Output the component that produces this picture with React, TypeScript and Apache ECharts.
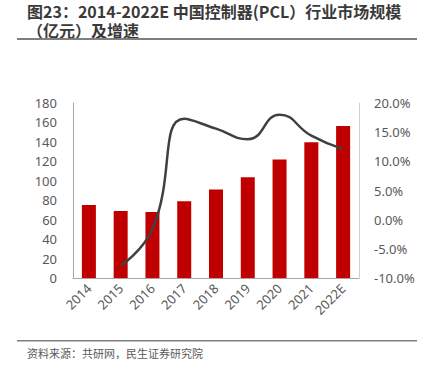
import React, { useEffect, useRef } from "react";
import * as echarts from "echarts";

const categories = ["2014", "2015", "2016", "2017", "2018", "2019", "2020", "2021", "2022E"];
const marketSize = [75, 69, 68, 79, 91, 103.6, 122, 139.6, 156.4];
const growthRate = [null, -7.9, -1.6, 17.3, 15.6, 13.8, 18.0, 14.4, 12.1];
const leftTicks = { min: 0, max: 180, interval: 20 };
const rightTicks = { min: -10, max: 20, interval: 5 };

const titleLine1 = "图23：2014-2022E 中国控制器(PCL）行业市场规模";
const titleLine2 = "（亿元）及增速";
const sourceText = "资料来源：共研网，民生证券研究院";

export default function App() {
  const ref = useRef<HTMLDivElement>(null);
  useEffect(() => {
    if (!ref.current) return;
    const chart = echarts.init(ref.current, undefined, { renderer: "svg" });
    const axisLabel = { color: "#595959", fontSize: 13, fontFamily: "Noto Sans" };
    chart.setOption({
      animation: false,
      backgroundColor: "#ffffff",
      grid: { left: 73, right: 66, top: 103, bottom: 96, containLabel: false },
      xAxis: {
        type: "category",
        data: categories,
        axisLine: { show: true, lineStyle: { color: "#a6a6a6", width: 1 } },
        axisTick: { show: false },
        axisLabel: { ...axisLabel, rotate: 45, margin: 8, interval: 0 },
      },
      yAxis: [
        {
          type: "value",
          min: leftTicks.min,
          max: leftTicks.max,
          interval: leftTicks.interval,
          axisLine: { show: true, lineStyle: { color: "#a6a6a6", width: 1 } },
          axisTick: { show: false },
          splitLine: { show: false },
          axisLabel: { ...axisLabel, margin: 16 },
        },
        {
          type: "value",
          min: rightTicks.min,
          max: rightTicks.max,
          interval: rightTicks.interval,
          axisLine: { show: true, lineStyle: { color: "#d0d0d0", width: 1 } },
          axisTick: { show: false },
          splitLine: { show: false },
          axisLabel: { ...axisLabel, margin: 15, formatter: (v: number) => v.toFixed(1) + "%" },
        },
      ],
      series: [
        {
          type: "bar",
          data: marketSize,
          barWidth: 14,
          itemStyle: { color: "#C00000" },
          yAxisIndex: 0,
        },
        {
          type: "line",
          data: growthRate,
          yAxisIndex: 1,
          smooth: 0.5,
          showSymbol: false,
          symbol: "none",
          lineStyle: { color: "#404040", width: 2.5 },
        },
      ],
      graphic: [
        {
          type: "text",
          left: 27,
          top: 1,
          style: {
            text: titleLine1 + "\n" + titleLine2,
            font: "bold 16px 'Noto Sans CJK SC'",
            lineHeight: 19.5,
            fill: "#3a3a3a",
          },
        },
        {
          type: "rect",
          shape: { x: 17, y: 38, width: 400, height: 2 },
          style: { fill: "#7f7f7f" },
        },
        {
          type: "rect",
          shape: { x: 17, y: 340, width: 400, height: 1.5 },
          style: { fill: "#808080" },
        },
        {
          type: "text",
          left: 27,
          top: 347,
          style: { text: sourceText, font: "11px 'Noto Sans CJK SC'", fill: "#595959" },
        },
      ],
    });
    return () => chart.dispose();
  }, []);
  return (
    <div
      ref={ref}
      style={{ position: "fixed", left: 0, top: 0, width: 425, height: 374 }}
    />
  );
}
